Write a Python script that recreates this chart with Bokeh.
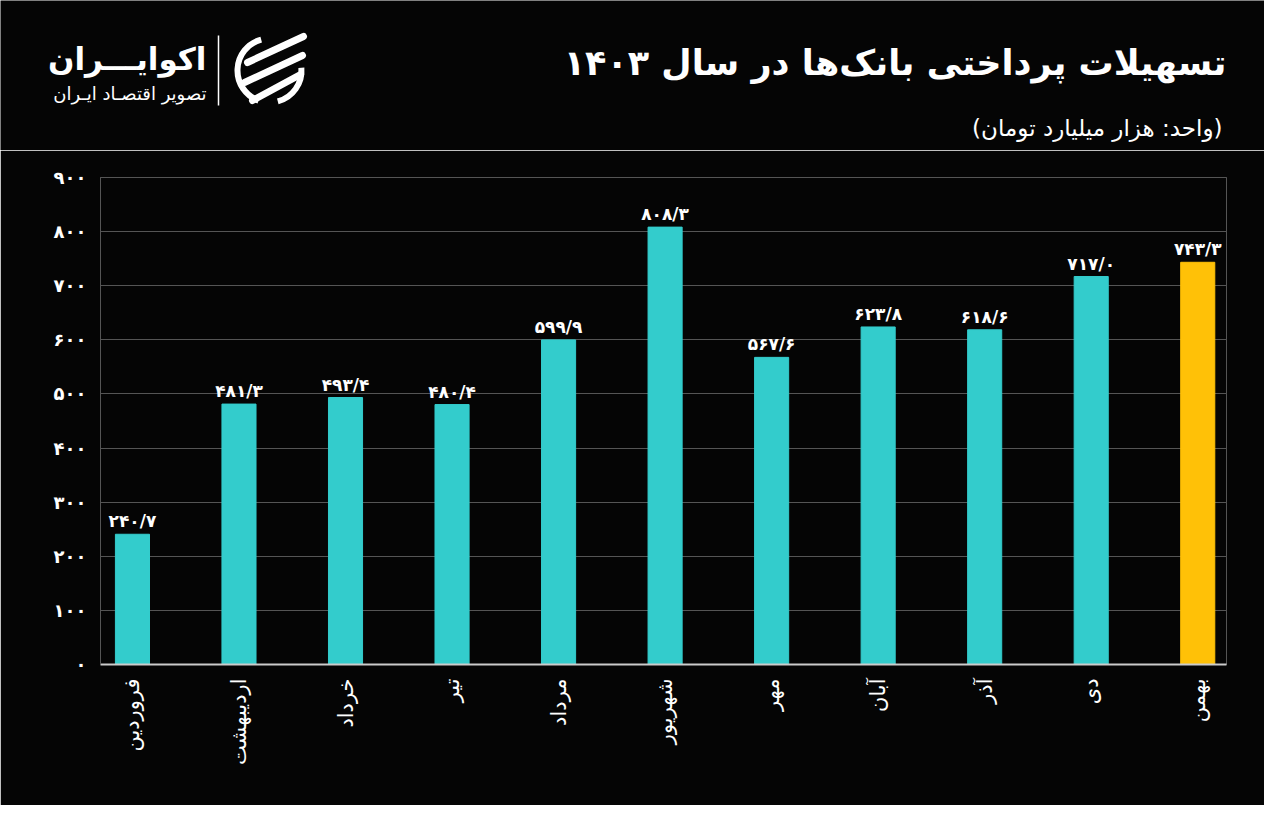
import math
from bokeh.plotting import figure
from bokeh.layouts import column
from bokeh.models import ColumnDataSource, FixedTicker, Range1d, LabelSet
from bokeh.embed import file_html
from bokeh.resources import INLINE
from bokeh.core.properties import value

months = ["فروردین", "اردیبهشت", "خرداد", "تیر", "مرداد", "شهریور",
          "مهر", "آبان", "آذر", "دی", "بهمن"]
values = [240.7, 481.3, 493.4, 480.4, 599.9, 808.3, 567.6, 623.8, 618.6, 717.0, 743.3]
bar_colors = ["#33CCCC"] * 10 + ["#FFC107"]
y_ticks = [0, 100, 200, 300, 400, 500, 600, 700, 800, 900]

title_text = "تسهیلات پرداختی بانک‌ها در سال ۱۴۰۳"
subtitle_text = "(واحد: هزار میلیارد تومان)"
logo_main = "اکوایـــران"
logo_sub = "تصویر اقتصـاد ایـران"

FA = str.maketrans("0123456789.", "۰۱۲۳۴۵۶۷۸۹/")
def fa(s):
    return str(s).translate(FA)

FONT = "DejaVu Sans"
BG = "#050505"
W = 1264
HH = 150  # header height

# ---------------- header (title, subtitle, logo) ----------------
h = figure(width=W, height=HH, output_backend="svg", toolbar_location=None,
           x_range=Range1d(0, W), y_range=Range1d(0, HH),
           x_axis_type=None, y_axis_type=None, min_border=0)
h.frame_align = False
h.background_fill_color = BG
h.border_fill_color = BG
h.outline_line_color = None
h.grid.grid_line_color = None
h.styles = {"border": "none"}

def Y(iy):
    return HH - iy

h.text(x=[1226], y=[Y(62)], text=[title_text], text_align="right", text_baseline="middle",
       text_color="white", text_font=value(FONT), text_font_size="35px", text_font_style="bold")
h.text(x=[1222], y=[Y(127)], text=[subtitle_text], text_align="right", text_baseline="middle",
       text_color="white", text_font=value(FONT), text_font_size="23px")
h.text(x=[206], y=[Y(58)], text=[logo_main], text_align="right", text_baseline="middle",
       text_color="white", text_font=value(FONT), text_font_size="31px", text_font_style="bold")
h.text(x=[206], y=[Y(93)], text=[logo_sub], text_align="right", text_baseline="middle",
       text_color="white", text_font=value(FONT), text_font_size="18px")
# separator and emblem
h.segment(x0=[218], y0=[Y(35)], x1=[218], y1=[Y(105)], line_color="white", line_width=1.5)
cx, cy, r = 269, Y(70), 32
h.arc(x=[cx], y=[cy], radius=r, start_angle=math.radians(105), end_angle=math.radians(250),
      line_color="white", line_width=6)
h.arc(x=[cx], y=[cy], radius=r, start_angle=math.radians(-75), end_angle=math.radians(5),
      line_color="white", line_width=6)
h.segment(x0=[247, 244, 252], y0=[Y(62), Y(82), Y(100)],
          x1=[303, 302, 300], y1=[Y(36), Y(55), Y(74)],
          line_color="white", line_width=7, line_cap="round")

# ---------------- main chart ----------------
xs = list(range(len(months)))
src = ColumnDataSource(dict(x=xs, top=values, color=bar_colors,
                            label=[fa(f"{v:.1f}") for v in values]))

p = figure(width=W, height=655, output_backend="svg", toolbar_location=None,
           x_range=Range1d(-0.30, 10.27), y_range=Range1d(0, 900),
           min_border_left=100, min_border_right=38, min_border_top=27, min_border_bottom=141)
p.frame_align = False
p.styles = {"border": "none"}
p.background_fill_color = BG
p.border_fill_color = BG
p.outline_line_color = "#555555"
p.outline_line_width = 1

p.vbar(x="x", top="top", width=0.32, bottom=0, color="color", source=src)

labels = LabelSet(x="x", y="top", text="label", source=src, text_align="center",
                  text_baseline="bottom", y_offset=3, text_color="white",
                  text_font=value(FONT), text_font_size="17px", text_font_style="bold")
p.add_layout(labels)

p.xaxis.ticker = FixedTicker(ticks=xs)
p.xaxis.major_label_overrides = {i: m for i, m in enumerate(months)}
p.xaxis.major_label_orientation = math.pi / 2
p.xaxis.major_label_text_color = "white"
p.xaxis.major_label_text_font = FONT
p.xaxis.major_label_text_font_size = "21px"
p.xaxis.major_label_standoff = 8
p.xaxis.axis_line_color = "#cccccc"
p.xaxis.axis_line_width = 2
p.xaxis.major_tick_line_color = None
p.xaxis.minor_tick_line_color = None

p.yaxis.ticker = FixedTicker(ticks=y_ticks)
p.yaxis.major_label_overrides = {t: fa(t) for t in y_ticks}
p.yaxis.major_label_text_color = "white"
p.yaxis.major_label_text_font = FONT
p.yaxis.major_label_text_font_size = "18px"
p.yaxis.major_label_text_font_style = "bold"
p.yaxis.major_label_standoff = 8
p.yaxis.axis_line_color = "#555555"
p.yaxis.major_tick_line_color = None
p.yaxis.minor_tick_line_color = None

p.xgrid.grid_line_color = None
p.ygrid.grid_line_color = "#555555"
p.ygrid.grid_line_width = 1

layout = column(h, p, spacing=0)
open("out.html", "w").write(file_html(layout, INLINE))
